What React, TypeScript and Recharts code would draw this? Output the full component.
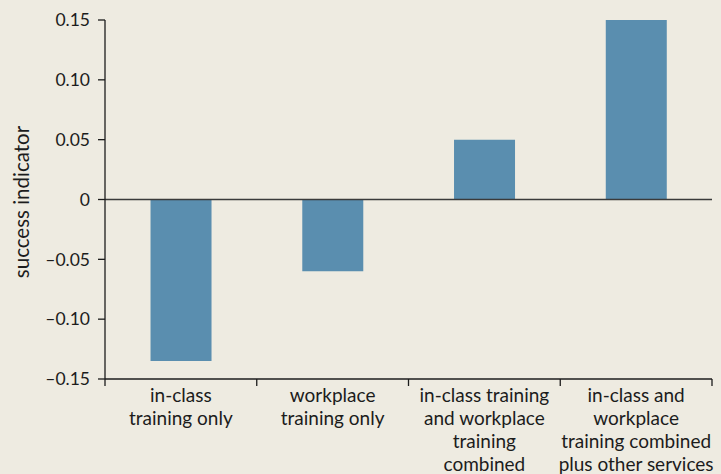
import React from 'react';
import {
  BarChart,
  Bar,
  XAxis,
  YAxis,
  ReferenceLine,
} from 'recharts';

const categories = [
  'in-class\ntraining only',
  'workplace\ntraining only',
  'in-class training\nand workplace\ntraining\ncombined',
  'in-class and\nworkplace\ntraining combined\nplus other services',
];
const successValues = [-0.135, -0.06, 0.05, 0.15];
const yTicks = [-0.15, -0.1, -0.05, 0, 0.05, 0.1, 0.15];

const data = categories.map((name, i) => ({ name, value: successValues[i] }));

const FONT = 'Lato, "Open Sans", sans-serif';
const INK = '#1c1c1c';

const fmt = (v: number) => (v === 0 ? '0' : (v < 0 ? '\u2013' : '') + Math.abs(v).toFixed(2));

// category labels + separator ticks on the band edges
function CategoryTick(props: any) {
  const { x, y, payload, index, width, visibleTicksCount } = props;
  const band = Number(width) / Number(visibleTicksCount || categories.length);
  const lines = String(payload.value).split('\n');
  const edges = [x - band / 2];
  if (index === visibleTicksCount - 1) edges.push(x + band / 2);
  return (
    <g>
      {edges.map((ex, i) => (
        <line key={'t' + i} x1={ex} x2={ex} y1={y} y2={y + 7} stroke={INK} strokeWidth={1.3} />
      ))}
      {lines.map((line, i) => (
        <text
          key={i}
          x={x}
          y={y + 23 + i * 23}
          textAnchor="middle"
          fontFamily={FONT}
          fontSize={19}
          fill={INK}
        >
          {line}
        </text>
      ))}
    </g>
  );
}

function YLabel() {
  return (
    <text
      x={29}
      y={202}
      transform="rotate(-90, 29, 202)"
      textAnchor="middle"
      fontFamily={FONT}
      fontSize={20.5}
      fill={INK}
    >
      success indicator
    </text>
  );
}

export default function App() {
  return (
    <div style={{ position: 'fixed', left: 0, top: 0, width: 721, height: 474, background: '#eeebe1' }}>
      <BarChart
        width={721}
        height={474}
        data={data}
        margin={{ top: 20, right: 9, bottom: 0, left: 0 }}
        barCategoryGap="30%"
      >
        <XAxis
          dataKey="name"
          height={95}
          interval={0}
          tickLine={false}
          tickSize={0}
          tickMargin={0}
          axisLine={{ stroke: INK, strokeWidth: 1.3 }}
          tick={<CategoryTick />}
        />
        <YAxis
          width={105}
          domain={[-0.15, 0.15]}
          ticks={yTicks}
          interval={0}
          tickFormatter={fmt}
          tickSize={7}
          tickMargin={8}
          axisLine={{ stroke: INK, strokeWidth: 1.3 }}
          tickLine={{ stroke: INK, strokeWidth: 1.3 }}
          tick={{ fontFamily: FONT, fontSize: 17.5, fill: INK }}
          label={<YLabel />}
        />
        <Bar dataKey="value" fill="#5a8eaf" isAnimationActive={false} />
        <ReferenceLine y={0} stroke="#3a3a3a" strokeWidth={1.6} />
      </BarChart>
    </div>
  );
}
